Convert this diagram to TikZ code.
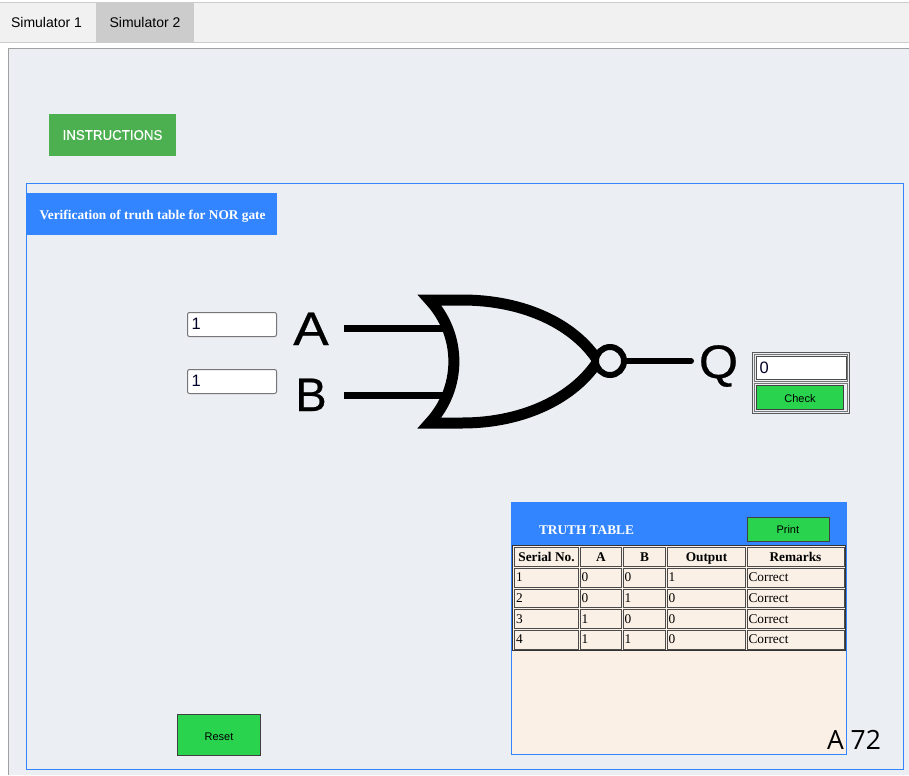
\documentclass[tikz,border=0pt]{standalone}
\usepackage{fontspec}
\setmainfont{Liberation Sans}
\newfontfamily\lserif{Liberation Serif}
\newfontfamily\opensans{Open Sans}
\newfontfamily\gatefont[FakeBold=0.5]{Liberation Sans}
\newfontfamily\instfont[FakeBold=0.4]{Liberation Sans}
\newcommand{\fpx}[1]{\fontsize{\dimexpr#1pt*3/4\relax}{\dimexpr#1pt\relax}\selectfont}
\definecolor{tabbar}{HTML}{F1F1F1}
\definecolor{tabon}{HTML}{CCCCCC}
\definecolor{panelbg}{HTML}{EBEEF3}
\definecolor{panelline}{HTML}{A0A0A0}
\definecolor{bluebar}{HTML}{3385FF}
\definecolor{instgreen}{HTML}{4CAF50}
\definecolor{btngreen}{HTML}{29D34D}
\definecolor{linenbg}{HTML}{FAF0E6}
\definecolor{cellline}{HTML}{4A4A4A}
\definecolor{inputline}{HTML}{767676}
\tikzset{
  x=0.75pt,y=-0.75pt,
  every node/.style={inner sep=0pt,outer sep=0pt},
  px/.style={line width=#1*0.75pt},
  tablabel/.style={anchor=base,text=black,font=\fpx{14}},
  inputbox/.style={draw=inputline,fill=white,px=1,rounded corners=1.5pt},
  digit/.style={anchor=base west,text=black!85!blue,font=\fpx{16.5}},
  gatelabel/.style={anchor=base,text=black,font=\gatefont\fpx{47}},
  wire/.style={draw=black,px=7},
  greenbtn/.style={draw=black!75,fill=btngreen,px=1,text=black,font=\fpx{11}},
  headcell/.style={anchor=base,text=black,font=\lserif\bfseries\fpx{13.33}},
  bodycell/.style={anchor=base west,text=black,font=\lserif\fpx{13.33}},
  cellbox/.style={draw=cellline,fill=linenbg,px=1},
}
\begin{document}
\begin{tikzpicture}
\useasboundingbox (0,0) rectangle (909,775);
\fill[white] (0,0) rectangle (909,775);
% tab bar
\fill[tabbar] (0,2) rectangle (909,43);
\fill[tabon] (96,3) rectangle (194,42);
\draw[tabon,px=1] (0,2.5) -- (909,2.5);
\draw[tabon,px=1] (0,42.5) -- (909,42.5);
\node[tablabel] (tab1) at (46.5,27) {Simulator 1};
\node[tablabel] (tab2) at (145,27) {Simulator 2};
% outer panel
\fill[panelbg] (8.5,48.5) rectangle (909,775);
\draw[panelline,px=1] (909,48.5) -- (8.5,48.5) -- (8.5,775);
% instructions
\node[fill=instgreen,minimum width=95.25pt,minimum height=31.5pt,text=white,font=\instfont\fpx{14}] (instr) at (112.5,135) {\raisebox{-0.5pt}{\scalebox{.95}[1]{INSTRUCTIONS}}};
% main box
\draw[bluebar,px=1] (26.5,183.5) rectangle (903.5,769.5);
\node[fill=bluebar,minimum width=188.25pt,minimum height=31.5pt] (title) at (151.5,214) {};
\node[anchor=base west,text=white,font=\lserif\bfseries\fpx{13.33}] (titletext) at (39.5,219) {Verification of truth table for NOR gate};
% inputs
\draw[inputbox] (187.5,312.5) rectangle (276.5,336.5);
\draw[inputbox] (187.5,369.5) rectangle (276.5,393.5);
\node[digit] (inA) at (191.5,329.5) {1};
\node[digit] (inB) at (191.5,386.5) {1};
% gate
\node[gatelabel,xscale=1.13] (lblA) at (311,345) {A};
\node[gatelabel,xscale=1.0] (lblB) at (311,411) {B};
\node[gatelabel,xscale=1.07] (lblQ) at (718.5,378) {Q};
\coordinate (a0) at (344,328);
\coordinate (a1) at (444,328);
\coordinate (b0) at (344,395);
\coordinate (b1) at (444,395);
\draw[wire] (a0) -- (a1);
\draw[wire] (b0) -- (b1);
\draw[black,px=11,miter limit=10,line join=miter]
  (429.5,300) .. controls (462,335) and (462,388) .. (429.5,423)
  -- (462,423) .. controls (525,423) and (575,397) .. (598,361)
  .. controls (575,325) and (525,300) .. (462,300) -- cycle;
\fill[panelbg] (610,361) circle (12);
\coordinate (bub) at (610,361);
\draw[black,px=6] (bub) circle (14);
\coordinate (q0) at (625,361);
\coordinate (q1) at (691,361);
\draw[black,px=6,line cap=round] (q0) -- (q1);
% check table
\draw[black!65,px=1] (752.5,352.5) rectangle (849.5,413.5);
\draw[inputline,px=1] (754.5,354.5) rectangle (847.5,381.5);
\draw[black!70,fill=white,px=1] (756.5,356.5) rectangle (846,379.5);
\node[digit] (outQ) at (759.5,373.5) {0};
\draw[inputline,px=1] (754.5,383.5) rectangle (847.5,411.5);
\node[greenbtn,minimum width=65.25pt,minimum height=18pt] (check) at (800,397.5) {\raisebox{-3.75pt}[0pt][0pt]{Check}};
% truth table panel
\draw[bluebar,fill=linenbg,px=1] (511.5,502.5) rectangle (846.5,754.5);
\fill[bluebar] (511,502) rectangle (847,545);
\node[anchor=base west,text=white,font=\lserif\bfseries\fpx{13.33}] (tthead) at (539,534) {TRUTH TABLE};
\node[greenbtn,minimum width=61.5pt,minimum height=18pt] (print) at (788.5,529.5) {\hspace{-1pt}Print};
\draw[black!80,fill=linenbg,px=1] (512.5,545.5) rectangle (845.5,650.5);
% cells
\foreach \xa/\xb in {514.5/578.5,580.5/621.5,623.5/665.5,667.5/745.5,747.5/844.5}{
  \foreach \ya/\yb in {547.5/566.5,568.5/587.5,589.5/607.5,609.5/628.5,630.5/649.5}{
    \draw[cellbox] (\xa,\ya) rectangle (\xb,\yb);
  }
}
\node[headcell] (h1) at (546.5,561) {Serial No.};
\node[headcell] (h2) at (601,561) {A};
\node[headcell] (h3) at (644.5,561) {B};
\node[headcell] (h4) at (706.5,561) {Output};
\node[headcell] (h5) at (795.5,561) {Remarks};
\foreach \r/\yy/\sn/\va/\vb/\vo in {1/581/1/0/0/1,2/602/2/0/1/0,3/623/3/1/0/0,4/643/4/1/1/0}{
  \node[bodycell] (s\r) at (516,\yy) {\sn};
  \node[bodycell] (a\r) at (581.5,\yy) {\va};
  \node[bodycell] (b\r) at (624.5,\yy) {\vb};
  \node[bodycell] (o\r) at (668.5,\yy) {\vo};
  \node[bodycell] (r\r) at (748.5,\yy) {Correct};
}
% reset
\node[greenbtn,minimum width=62.25pt,minimum height=30.75pt] (reset) at (219,735) {\raisebox{-3.75pt}[0pt][0pt]{Reset}};
% corner text
\node[anchor=base west,text=black,font=\opensans\fpx{26.5}] (corner) at (827,749) {A 72};
\end{tikzpicture}
\end{document}
